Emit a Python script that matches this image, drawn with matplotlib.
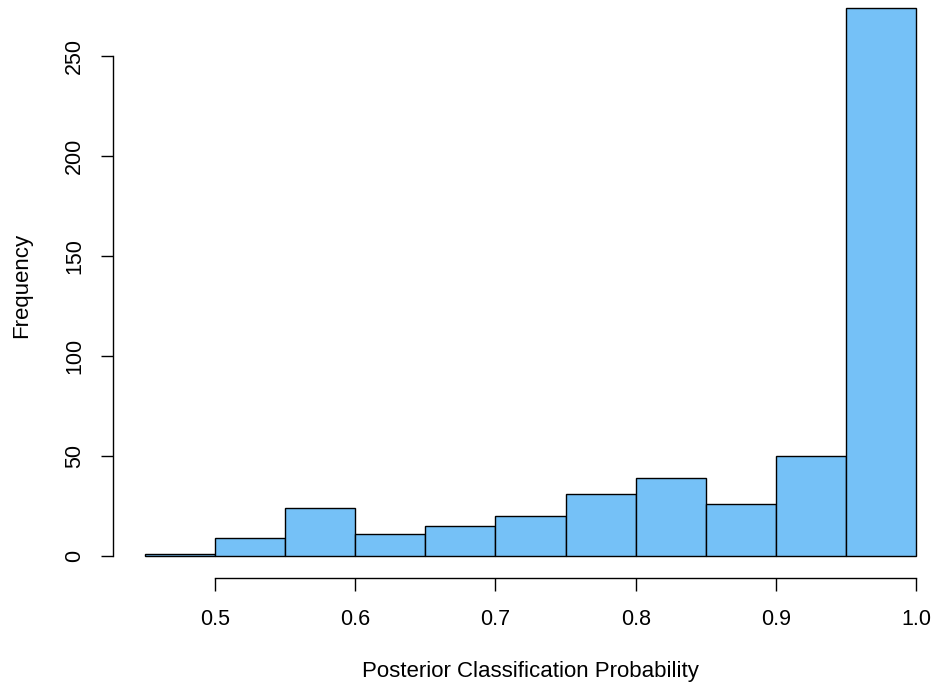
import matplotlib as mpl
mpl.use("Agg")
import matplotlib.pyplot as plt
import numpy as np

# histogram of posterior probabilities (bin edges + counts)
bin_edges = [0.45, 0.50, 0.55, 0.60, 0.65, 0.70, 0.75, 0.80, 0.85, 0.90, 0.95, 1.00]
counts = [1, 9, 24, 11, 15, 20, 31, 39, 26, 50, 274]
x_ticks = [0.5, 0.6, 0.7, 0.8, 0.9, 1.0]
y_ticks = [0, 50, 100, 150, 200, 250]

plt.rcParams['font.family'] = ['Liberation Sans', 'DejaVu Sans']

W, H = 935, 688
fig = plt.figure(figsize=(W / 100, H / 100), dpi=100)
# plot region in pixels: left 113, right 935, top 0, bottom 578
ax = fig.add_axes([113 / W, 1 - 578 / H, (935 - 113) / W, 578 / H])

edges = np.array(bin_edges)
ax.bar(edges[:-1], counts, width=np.diff(edges), align='edge',
       color='#75c1f7', edgecolor='black', linewidth=1.0)

# 1402 px per x unit, 2 px per count
ax.set_xlim(0.45 - 32 / 1402, 1.0 + 19 / 1402)
ax.set_ylim(-11, 278)

for s in ['top', 'right']:
    ax.spines[s].set_visible(False)
ax.spines['left'].set_bounds(0, 250)
ax.spines['bottom'].set_bounds(0.5, 1.0)
ax.spines['left'].set_linewidth(1.0)
ax.spines['bottom'].set_linewidth(1.0)

ax.set_xticks(x_ticks)
ax.set_xticklabels(['%.1f' % v for v in x_ticks])
ax.set_yticks(y_ticks)
ax.set_yticklabels([str(v) for v in y_ticks], rotation=90, va='center')
ax.tick_params(axis='both', direction='out', length=9, width=1.0,
               labelsize=15.5, colors='black')
ax.tick_params(axis='x', pad=13)
ax.tick_params(axis='y', pad=11)

fig.text(530 / W, 1 - 672 / H, 'Posterior Classification Probability',
         ha='center', va='center', fontsize=16)
fig.text(22 / W, 1 - 285 / H, 'Frequency', rotation=90,
         ha='center', va='center', fontsize=16)

fig.savefig('out.png', dpi=100)
